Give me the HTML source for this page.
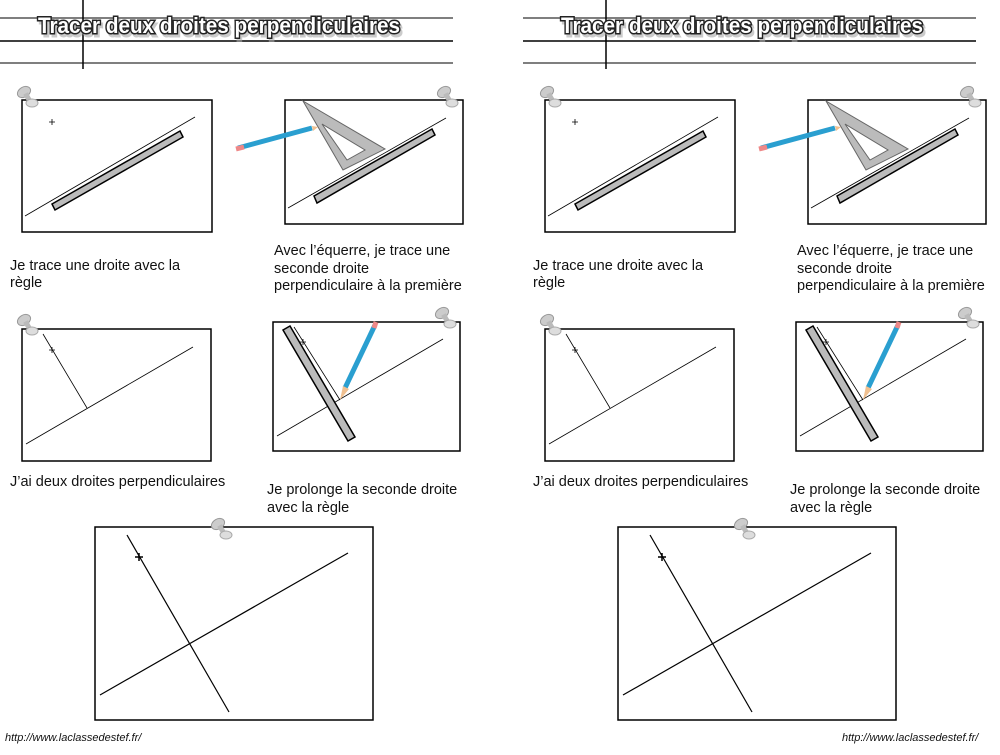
<!DOCTYPE html>
<html><head><meta charset="utf-8"><style>
body{margin:0;background:#fff;width:1000px;height:750px;overflow:hidden}
svg text{font-family:"Liberation Sans",sans-serif}
</style></head><body>
<svg width="1000" height="750" viewBox="0 0 1000 750" xmlns="http://www.w3.org/2000/svg">
<defs>
<g id="pin">
<ellipse cx="0" cy="0" rx="7" ry="5" fill="#ccc" stroke="#999" transform="rotate(-30)"/>
<rect x="-2" y="2" width="5" height="10" fill="#bbb" transform="rotate(-30)"/>
<ellipse cx="8" cy="11" rx="6" ry="4" fill="#ddd" stroke="#aaa"/>
</g>
<g id="half" fill="none" stroke="#000">
<line x1="0" y1="18" x2="453" y2="18" stroke="#555" stroke-width="1.5"/>
<line x1="0" y1="41" x2="453" y2="41" stroke-width="1.5"/>
<line x1="0" y1="63" x2="453" y2="63" stroke="#555" stroke-width="1.5"/>
<line x1="83" y1="0" x2="83" y2="69" stroke-width="1.5"/>
<rect x="22" y="100" width="190" height="132" stroke-width="1.5"/>
<line x1="25" y1="216" x2="195" y2="117" stroke-width="0.8"/>
<polygon points="52,204 180,131 183,137 55,210" fill="#bbb" stroke-width="1.5"/>
<path d="M49,122h6M52,119v6" stroke-width="0.8"/>
<rect x="285" y="100" width="178" height="124" stroke-width="1.5"/>
<line x1="288" y1="208" x2="446" y2="118" stroke-width="0.8"/>
<polygon points="314,196 432,129 435,135 317,203" fill="#bbb" stroke-width="1.5"/>
<path d="M303,101 L385,149 L343,170 Z M322,124 L365,150 L347,160 Z" fill="#bbb" fill-rule="evenodd" stroke="#666" stroke-width="1"/>
<line x1="238" y1="148" x2="312" y2="128" stroke="#2a9fd0" stroke-width="5"/>
<line x1="236" y1="149" x2="244" y2="147" stroke="#e88" stroke-width="5"/>
<path d="M312,126 L318,127 L313,131 Z" fill="#f0c090" stroke="none"/>
<rect x="22" y="329" width="189" height="132" stroke-width="1.5"/>
<line x1="26" y1="444" x2="193" y2="347" stroke-width="0.8"/>
<line x1="43" y1="334" x2="87" y2="408" stroke-width="0.8"/>
<path d="M49,350h6M52,347v6" stroke-width="0.8"/>
<rect x="273" y="322" width="187" height="129" stroke-width="1.5"/>
<line x1="277" y1="436" x2="443" y2="339" stroke-width="0.8"/>
<polygon points="283,330 290,326 355,437 348,441" fill="#bbb" stroke-width="1.5"/>
<line x1="294" y1="327" x2="340" y2="400" stroke-width="0.8"/>
<path d="M300,342h6M303,339v6" stroke-width="0.8"/>
<line x1="375" y1="325" x2="345" y2="388" stroke="#2a9fd0" stroke-width="5"/>
<line x1="376" y1="322" x2="374" y2="328" stroke="#e88" stroke-width="5"/>
<path d="M343,386 L349,389 L340,400 Z" fill="#f0c090" stroke="none"/>
<rect x="95" y="527" width="278" height="193" stroke-width="1.5"/>
<line x1="100" y1="695" x2="348" y2="553" stroke-width="1.2"/>
<line x1="127" y1="535" x2="229" y2="712" stroke-width="1.2"/>
<path d="M135,557h8M139,553v8" stroke-width="1.5"/>
</g>
</defs>
<use href="#half"/>
<use href="#half" x="523"/>
<g>
<use href="#pin" x="24" y="92"/><use href="#pin" x="444" y="92"/><use href="#pin" x="24" y="320"/><use href="#pin" x="442" y="313"/><use href="#pin" x="218" y="524"/>
<use href="#pin" x="547" y="92"/><use href="#pin" x="967" y="92"/><use href="#pin" x="547" y="320"/><use href="#pin" x="965" y="313"/><use href="#pin" x="741" y="524"/>
</g>
<g font-size="22" font-weight="bold" style="font-family:'DejaVu Sans',sans-serif">
<g fill="#999" stroke="#aaa" stroke-width="3" opacity="0.6">
<text x="40" y="36" textLength="362" lengthAdjust="spacingAndGlyphs">Tracer deux droites perpendiculaires</text>
<text x="563" y="36" textLength="362" lengthAdjust="spacingAndGlyphs">Tracer deux droites perpendiculaires</text>
</g>
<g fill="#fff" stroke="#222" stroke-width="3" paint-order="stroke">
<text x="38" y="33" textLength="362" lengthAdjust="spacingAndGlyphs">Tracer deux droites perpendiculaires</text>
<text x="561" y="33" textLength="362" lengthAdjust="spacingAndGlyphs">Tracer deux droites perpendiculaires</text>
</g>
</g>
<g font-size="14.5" fill="#111">
<text x="10" y="270">Je trace une droite avec la</text><text x="10" y="287">règle</text>
<text x="274" y="255">Avec l’équerre, je trace une</text><text x="274" y="273">seconde droite</text><text x="274" y="290">perpendiculaire à la première</text>
<text x="10" y="486">J’ai deux droites perpendiculaires</text>
<text x="267" y="494">Je prolonge la seconde droite</text><text x="267" y="512">avec la règle</text>
<text x="533" y="270">Je trace une droite avec la</text><text x="533" y="287">règle</text>
<text x="797" y="255">Avec l’équerre, je trace une</text><text x="797" y="273">seconde droite</text><text x="797" y="290">perpendiculaire à la première</text>
<text x="533" y="486">J’ai deux droites perpendiculaires</text>
<text x="790" y="494">Je prolonge la seconde droite</text><text x="790" y="512">avec la règle</text>
</g>
<g font-size="11" font-style="italic" fill="#111">
<text x="5" y="741">http://www.laclassedestef.fr/</text>
<text x="842" y="741">http://www.laclassedestef.fr/</text>
</g>
</svg>
</body></html>
